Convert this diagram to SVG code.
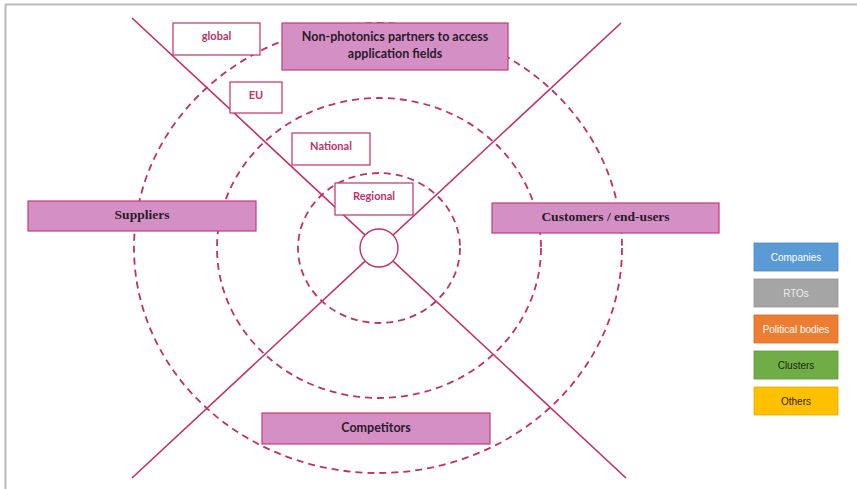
<svg xmlns="http://www.w3.org/2000/svg" width="857" height="489" viewBox="0 0 857 489">
  <style>
    .ring { fill: none; stroke: #c0306a; stroke-width: 1.8; stroke-dasharray: 7 5; }
    .axis { stroke: #c42f6c; stroke-width: 1.6; fill: none; }
    .scale { fill: #ffffff; stroke: #c42f6c; stroke-width: 1.2; }
    .scale-text { font-family: Lato, "Open Sans", sans-serif; font-weight: bold; font-size: 11px; fill: #c0306a; text-anchor: middle; dominant-baseline: central; }
    .group { fill: #d490c5; stroke: #c83a78; stroke-width: 1.2; }
    .group-serif { font-family: "Liberation Serif", serif; font-weight: bold; font-size: 13.5px; fill: #2a1a2a; text-anchor: middle; dominant-baseline: central; }
    .group-sans { font-family: Lato, "Open Sans", sans-serif; font-weight: bold; font-size: 12.5px; fill: #2a1a2a; text-anchor: middle; dominant-baseline: central; }
    .legend-text { font-family: "Liberation Sans", Arial, sans-serif; font-size: 10px; text-anchor: middle; dominant-baseline: central; }
  </style>

  <rect x="0" y="0" width="857" height="489" fill="#ffffff"/>
  <!-- frame -->
  <line x1="5" y1="4.5" x2="857" y2="4.5" stroke="#bcbcbc" stroke-width="2"/>
  <line x1="5.5" y1="4" x2="5.5" y2="489" stroke="#bcbcbc" stroke-width="2"/>

  <!-- concentric reach rings -->
  <g id="rings">
    <ellipse class="ring" cx="379" cy="248" rx="81" ry="75"/>
    <ellipse class="ring" cx="379" cy="248" rx="162" ry="150"/>
    <ellipse class="ring" cx="378" cy="248" rx="244" ry="225"/>
  </g>

  <!-- crossing axes -->
  <g id="connectors">
    <line class="axis" x1="132" y1="18" x2="626" y2="478"/>
    <line class="axis" x1="621" y1="23" x2="132" y2="478"/>
  </g>

  <g id="core">
    <circle cx="379" cy="248" r="19" fill="#ffffff" stroke="#c42f6c" stroke-width="1.4"/>
  </g>

  <!-- scale labels -->
  <g id="global">
    <rect class="scale" x="173" y="23" width="87" height="32"/>
    <text class="scale-text" x="216.5" y="35">global</text>
  </g>
  <g id="eu">
    <rect class="scale" x="230" y="82" width="52" height="31"/>
    <text class="scale-text" x="256" y="94">EU</text>
  </g>
  <g id="national">
    <rect class="scale" x="292" y="133" width="78" height="32"/>
    <text class="scale-text" x="331" y="145.5">National</text>
  </g>
  <g id="regional">
    <rect class="scale" x="335" y="183" width="78" height="32"/>
    <text class="scale-text" x="374" y="195.5">Regional</text>
  </g>

  <!-- partner groups -->
  <g id="non-photonics">
    <rect class="group" x="282" y="23" width="226" height="47"/>
    <text class="group-sans" x="395" y="36.5">Non-photonics partners to access</text>
    <text class="group-sans" x="395" y="53">application fields</text>
  </g>
  <g id="suppliers">
    <rect class="group" x="28" y="201" width="228" height="30"/>
    <text class="group-serif" x="142" y="214.5">Suppliers</text>
  </g>
  <g id="customers">
    <rect class="group" x="492" y="203" width="227" height="30"/>
    <text class="group-serif" x="605.5" y="216.5">Customers / end-users</text>
  </g>
  <g id="competitors">
    <rect class="group" x="262" y="413" width="228" height="31"/>
    <text class="group-sans" x="376" y="427">Competitors</text>
  </g>

  <!-- legend -->
  <g id="legend-companies">
    <rect x="754" y="243" width="84" height="28" fill="#5b9bd5" stroke="#4a86c0" stroke-width="0.8"/>
    <text class="legend-text" x="796" y="257" fill="#ffffff">Companies</text>
  </g>
  <g id="legend-rtos">
    <rect x="754" y="279" width="84" height="28" fill="#a5a5a5" stroke="#939393" stroke-width="0.8"/>
    <text class="legend-text" x="796" y="293" fill="#ececec">RTOs</text>
  </g>
  <g id="legend-political">
    <rect x="754" y="315" width="84" height="28" fill="#ed7d31" stroke="#d66d25" stroke-width="0.8"/>
    <text class="legend-text" x="796" y="329" fill="#ffffff">Political bodies</text>
  </g>
  <g id="legend-clusters">
    <rect x="754" y="351" width="84" height="28" fill="#70ad47" stroke="#5f983a" stroke-width="0.8"/>
    <text class="legend-text" x="796" y="365" fill="#1a2a10">Clusters</text>
  </g>
  <g id="legend-others">
    <rect x="754" y="387" width="84" height="28" fill="#ffc000" stroke="#e6ad00" stroke-width="0.8"/>
    <text class="legend-text" x="796" y="401" fill="#2a2000">Others</text>
  </g>
</svg>
